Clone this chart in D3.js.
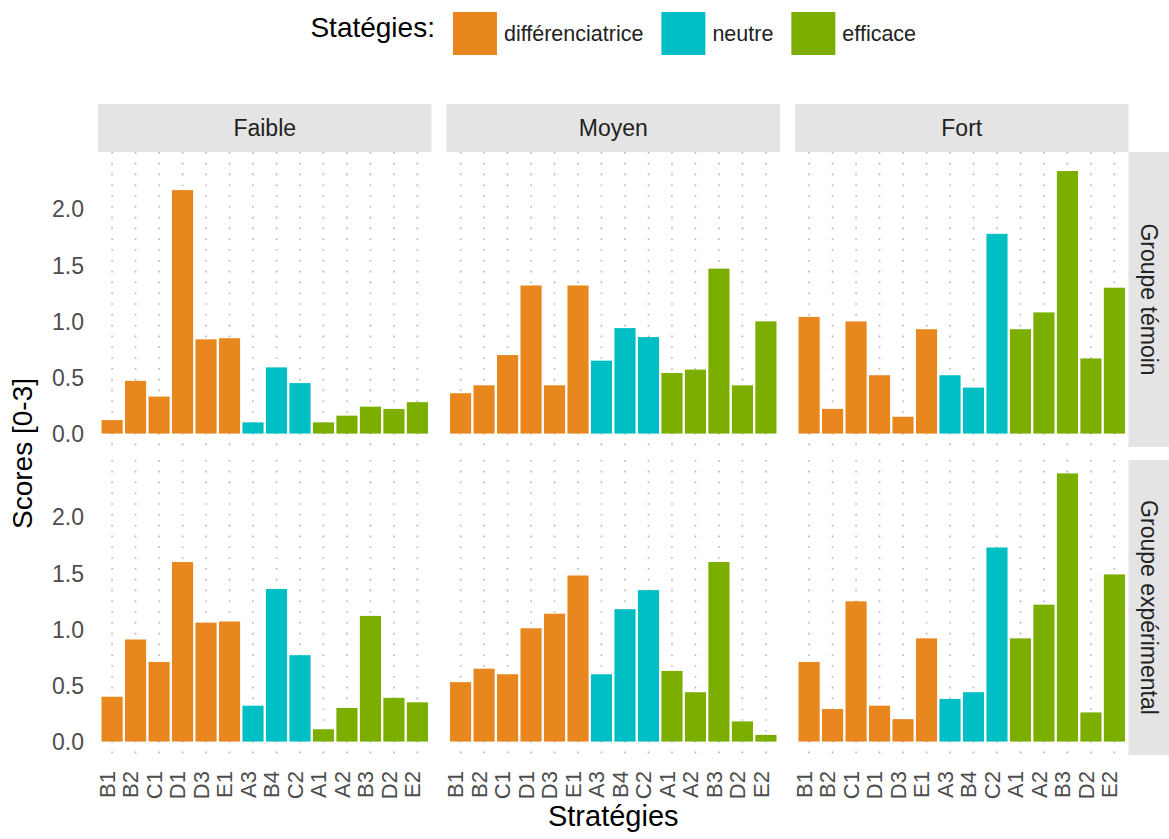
<!DOCTYPE html>
<html><head><meta charset="utf-8">
<script src="https://cdn.jsdelivr.net/npm/d3@7"></script>
<style>
body{margin:0;background:#fff}
svg{display:block}
text{font-family:"Liberation Sans", Arial, Helvetica, sans-serif}
</style>
</head><body>
<svg id="chart" width="1169" height="839"></svg>
<script>
// ---------- DATA ----------
const categories = ["B1","B2","C1","D1","D3","E1","A3","B4","C2","A1","A2","B3","D2","E2"];
const strategyTypes = ["différenciatrice","neutre","efficace"];
const categoryType = ["différenciatrice","différenciatrice","différenciatrice","différenciatrice","différenciatrice","différenciatrice",
                      "neutre","neutre","neutre",
                      "efficace","efficace","efficace","efficace","efficace"];
const levels = ["Faible","Moyen","Fort"];
const groups = ["Groupe témoin","Groupe expérimental"];
const yTicks = [0, 0.5, 1, 1.5, 2];

const temoinFaible = [0.12,0.47,0.33,2.17,0.84,0.85,0.10,0.59,0.45,0.10,0.16,0.24,0.22,0.28];
const temoinMoyen  = [0.36,0.43,0.70,1.32,0.43,1.32,0.65,0.94,0.86,0.54,0.57,1.47,0.43,1.00];
const temoinFort   = [1.04,0.22,1.00,0.52,0.15,0.93,0.52,0.41,1.78,0.93,1.08,2.34,0.67,1.30];
const expFaible    = [0.40,0.91,0.71,1.60,1.06,1.07,0.32,1.36,0.77,0.11,0.30,1.12,0.39,0.35];
const expMoyen     = [0.53,0.65,0.60,1.01,1.14,1.48,0.60,1.18,1.35,0.63,0.44,1.60,0.18,0.06];
const expFort      = [0.71,0.29,1.25,0.32,0.20,0.92,0.38,0.44,1.73,0.92,1.22,2.39,0.26,1.49];

const colors = ["#E8871E","#00BFC4","#7CAE00"];

// table built from arrays
const panelValues = {
  "Groupe témoin": {Faible: temoinFaible, Moyen: temoinMoyen, Fort: temoinFort},
  "Groupe expérimental": {Faible: expFaible, Moyen: expMoyen, Fort: expFort}
};

// ---------- LAYOUT ----------
const svg = d3.select("#chart");
const colScale = d3.scaleBand().domain(levels).range([98, 1128.5]).paddingInner(15/348.5).paddingOuter(0);
const rowScale = d3.scaleBand().domain(groups).range([152, 755]).paddingInner(13/308).paddingOuter(0);
const pw = colScale.bandwidth(), ph = rowScale.bandwidth();
const stripH = 48;

const allVals = [].concat(temoinFaible,temoinMoyen,temoinFort,expFaible,expMoyen,expFort);
const maxV = d3.max(allVals);
const y = d3.scaleLinear().domain([-0.05*maxV, maxV*1.05]).range([ph, 0]);
const x = d3.scaleBand().domain(categories).range([0, pw]).paddingInner(0.1).paddingOuter(0.15);
const color = d3.scaleOrdinal().domain(strategyTypes).range(colors);
const typeOf = c => categoryType[categories.indexOf(c)];

// ---------- STRIPS (top) ----------
levels.forEach(l => {
  const g = svg.append("g").attr("transform", `translate(${colScale(l)},${152 - stripH})`);
  g.append("rect").attr("width", pw).attr("height", stripH).attr("fill", "#e4e4e4");
  g.append("text").attr("x", pw/2).attr("y", stripH/2).attr("dy","0.36em")
    .attr("text-anchor","middle").attr("font-size", 23).attr("fill","#222").text(l);
});
// ---------- STRIPS (right) ----------
groups.forEach(gr => {
  const gx = colScale("Fort") + pw;
  const g = svg.append("g").attr("transform", `translate(${gx},${rowScale(gr)})`);
  g.append("rect").attr("width", stripH).attr("height", ph).attr("fill", "#e4e4e4");
  g.append("text").attr("transform", `translate(${stripH/2 - 3},${ph/2}) rotate(90)`).attr("dy","0.36em")
    .attr("text-anchor","middle").attr("font-size", 23).attr("fill","#222").text(gr);
});

// ---------- PANELS ----------
groups.forEach(gr => {
  levels.forEach(l => {
    const g = svg.append("g").attr("transform", `translate(${colScale(l)},${rowScale(gr)})`);
    // vertical dotted grid
    g.selectAll("line.grid").data(categories).join("line")
      .attr("x1", d => x(d) + x.bandwidth()/2).attr("x2", d => x(d) + x.bandwidth()/2)
      .attr("y1", 0).attr("y2", ph)
      .attr("stroke", "#b4b4b4").attr("stroke-width", 1.6).attr("stroke-dasharray", "1.6,9.2");
    const vals = panelValues[gr][l];
    g.selectAll("rect.bar").data(categories.map((c,i) => ({c, v: vals[i]}))).join("rect")
      .attr("x", d => x(d.c)).attr("width", x.bandwidth())
      .attr("y", d => y(d.v)).attr("height", d => y(0) - y(d.v))
      .attr("fill", d => color(typeOf(d.c)));
  });
  // y axis labels
  const ya = svg.append("g").attr("transform", `translate(${colScale("Faible") - 14},${rowScale(gr)})`);
  ya.selectAll("text").data(yTicks).join("text")
    .attr("x", 0).attr("y", d => y(d)).attr("dy", "0.36em")
    .attr("text-anchor", "end").attr("font-size", 23).attr("fill", "#4d4d4d")
    .text(d => d3.format(".1f")(d));
});

// ---------- X tick labels ----------
const bottomY = rowScale("Groupe expérimental") + ph;
levels.forEach(l => {
  const g = svg.append("g").attr("transform", `translate(${colScale(l)},${bottomY + 16})`);
  g.selectAll("text").data(categories).join("text")
    .attr("transform", d => `translate(${x(d) + x.bandwidth()/2},0) rotate(-90)`)
    .attr("dy", "0.13em").attr("text-anchor", "end")
    .attr("font-size", 22).attr("fill", "#4d4d4d").text(d => d);
});

// ---------- Axis titles ----------
svg.append("text").attr("x", (98 + 1128.5)/2).attr("y", 826)
  .attr("text-anchor","middle").attr("font-size", 29).attr("fill","#000").text("Stratégies");
svg.append("text").attr("transform", `translate(32,${(152+755)/2}) rotate(-90)`)
  .attr("text-anchor","middle").attr("font-size", 28).attr("fill","#000").text("Scores [0-3]");

// ---------- Legend ----------
const leg = svg.append("g");
const title = leg.append("text").attr("x", 0).attr("y", 37).attr("font-size", 28).attr("fill","#000").text("Statégies:");
let cx = title.node().getComputedTextLength() + 18;
strategyTypes.forEach((s, i) => {
  leg.append("rect").attr("x", cx).attr("y", 12).attr("width", 44).attr("height", 43).attr("fill", color(s));
  cx += 44 + 7;
  const t = leg.append("text").attr("x", cx).attr("y", 40.5).attr("font-size", 21.5).attr("fill","#222").text(s);
  cx += t.node().getComputedTextLength() + (i < strategyTypes.length - 1 ? 18 : 0);
});
const legCenter = (98 + 1128.5)/2;
leg.attr("transform", `translate(${legCenter - cx/2},0)`);
</script>
</body></html>
